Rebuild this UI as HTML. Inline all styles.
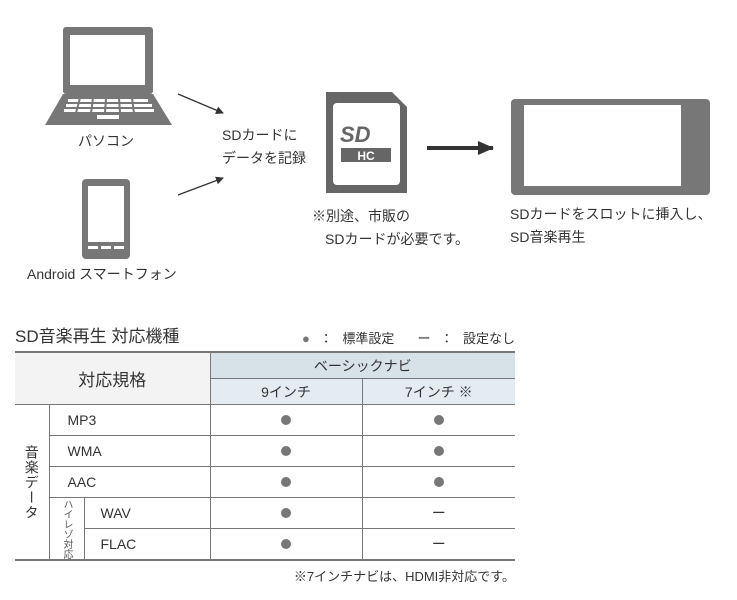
<!DOCTYPE html>
<html><head><meta charset="utf-8"><style>
body{margin:0;width:737px;height:600px;background:#fff;position:relative;font-family:"Liberation Sans","Noto Sans CJK JP",sans-serif;color:#333;overflow:hidden}
.t{position:absolute;white-space:nowrap;font-size:14px;line-height:1}
table{position:absolute;left:15px;top:351px;border-collapse:collapse;font-size:14px;color:#333;table-layout:fixed;width:500px}
td{border:1px solid #777;text-align:center;padding:0;height:30px;overflow:hidden}
.dot{display:inline-block;width:10px;height:10px;border-radius:50%;background:#777}
</style></head><body>
<svg width="737" height="300" style="position:absolute;left:0;top:0">
<defs><marker id="a" markerWidth="8" markerHeight="8" refX="7" refY="4" orient="auto" markerUnits="userSpaceOnUse"><path d="M0,0L8,4L0,8z" fill="#333"/></marker>
<marker id="b" markerWidth="16" markerHeight="14" refX="15" refY="7" orient="auto" markerUnits="userSpaceOnUse"><path d="M0,0L16,7L0,14z" fill="#333"/></marker></defs>
<rect x="63" y="27" width="90" height="67" rx="3" fill="#777"/>
<rect x="70" y="35" width="75" height="50" fill="#fff"/>
<path d="M63,94H153L172,125H45Z" fill="#777"/>
<g fill="#fff">
<rect x="68" y="99" width="80" height="3"/><rect x="66" y="104" width="86" height="3"/><rect x="64" y="109" width="90" height="3"/>
<rect x="97" y="115" width="22" height="4"/></g>
<g stroke="#777" stroke-width="2"><line x1="80" y1="98" x2="76" y2="113"/><line x1="93" y1="98" x2="91" y2="113"/><line x1="106" y1="98" x2="105" y2="113"/><line x1="119" y1="98" x2="120" y2="113"/><line x1="132" y1="98" x2="134" y2="113"/></g>
<rect x="82" y="179" width="48" height="80" rx="4" fill="#777"/>
<rect x="88" y="186" width="36" height="56" fill="#fff"/>
<g fill="#fff"><rect x="88" y="246" width="10" height="3"/><rect x="101" y="246" width="10" height="3"/><rect x="114" y="246" width="10" height="3"/></g>
<line x1="178" y1="94" x2="223" y2="113" stroke="#333" stroke-width="1.3" marker-end="url(#a)"/>
<line x1="178" y1="195" x2="223" y2="178" stroke="#333" stroke-width="1.3" marker-end="url(#a)"/>
<path d="M326,92H392L407,107V193H326Z" fill="#666"/>
<rect x="333" y="103" width="67" height="82" rx="4" fill="#fff"/>
<text x="340" y="142" font-family="Liberation Sans" font-style="italic" font-weight="bold" font-size="22" fill="#666">SD</text>
<rect x="341" y="148" width="50" height="14" fill="#666"/>
<text x="366" y="160" text-anchor="middle" font-family="Liberation Sans" font-weight="bold" font-size="12" fill="#fff">HC</text>
<line x1="427" y1="148" x2="493" y2="148" stroke="#333" stroke-width="4" marker-end="url(#b)"/>
<rect x="511" y="99" width="199" height="96" rx="4" fill="#777"/>
<rect x="524" y="105" width="157" height="81" fill="#fff"/>
</svg>
<div class="t" style="left:78px;top:134px">パソコン</div>
<div class="t" style="left:27px;top:267px">Android スマートフォン</div>
<div class="t" style="left:222px;top:128px">SDカードに</div>
<div class="t" style="left:222px;top:151px">データを記録</div>
<div class="t" style="left:312px;top:209px">※別途、市販の</div>
<div class="t" style="left:325px;top:232px">SDカードが必要です。</div>
<div class="t" style="left:510px;top:207px">SDカードをスロットに挿入し、</div>
<div class="t" style="left:510px;top:230px">SD音楽再生</div>
<div class="t" style="left:15px;top:328px;font-size:17px">SD音楽再生 対応機種</div>
<div class="t" style="left:302px;top:332px;font-size:13px;width:213px;display:flex;justify-content:space-between"><span style="color:#777">●</span><span>：</span><span>標準設定</span><span>&nbsp;</span><span>ー</span><span>：</span><span>設定なし</span></div>
<table>
<colgroup><col style="width:34px"><col style="width:35px"><col style="width:126px"><col style="width:152px"><col style="width:153px"></colgroup>
<tr><td colspan="3" rowspan="2" style="border-left:none;border-top:2px solid #777;background:#f3f3f3;font-size:17px">対応規格</td><td colspan="2" style="border-right:none;border-top:2px solid #777;background:#d6e1e8;height:25px">ベーシックナビ</td></tr>
<tr><td style="background:#e4ecf1;height:25px">9インチ</td><td style="background:#e4ecf1;border-right:none;height:25px">7インチ ※</td></tr>
<tr><td rowspan="5" style="border-left:none;writing-mode:vertical-rl;font-size:14px;letter-spacing:1px;vertical-align:middle">音楽データ</td><td colspan="2" style="text-align:left;padding-left:18px">MP3</td><td><span class="dot"></span></td><td style="border-right:none"><span class="dot"></span></td></tr>
<tr><td colspan="2" style="text-align:left;padding-left:18px">WMA</td><td><span class="dot"></span></td><td style="border-right:none"><span class="dot"></span></td></tr>
<tr><td colspan="2" style="text-align:left;padding-left:18px">AAC</td><td><span class="dot"></span></td><td style="border-right:none"><span class="dot"></span></td></tr>
<tr><td rowspan="2" style="writing-mode:vertical-rl;font-size:10px;color:#555">ハイレゾ対応</td><td style="text-align:left;padding-left:16px">WAV</td><td><span class="dot"></span></td><td style="border-right:none">ー</td></tr>
<tr style="border-bottom:2px solid #777"><td style="text-align:left;padding-left:16px">FLAC</td><td><span class="dot"></span></td><td style="border-right:none">ー</td></tr>
</table>
<div class="t" style="right:222px;top:570px;font-size:13px">※7インチナビは、HDMI非対応です。</div>
</body></html>
